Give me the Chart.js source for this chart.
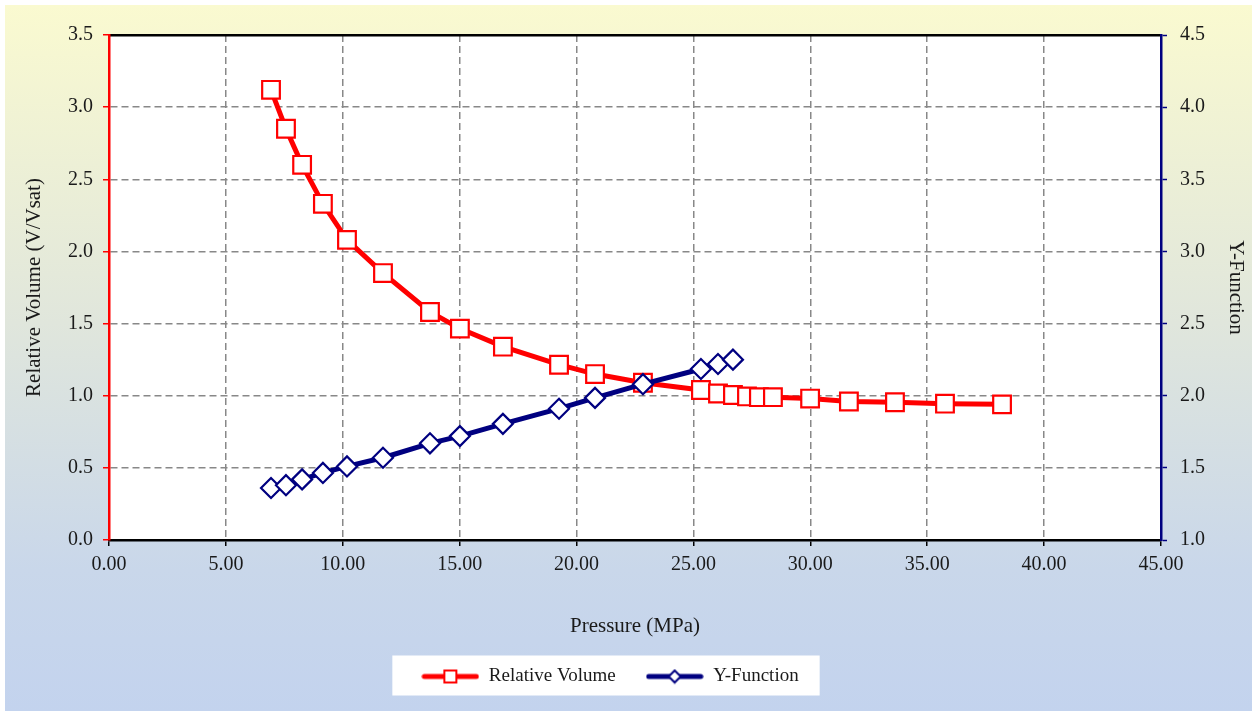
<!DOCTYPE html>
<html><head><meta charset="utf-8">
<script src="https://cdn.jsdelivr.net/npm/chart.js@4.4.0/dist/chart.umd.min.js"></script>
<style>html,body{margin:0;padding:0;background:#fff}#wrap{width:1254px;height:713px;position:relative}</style>
</head><body><div id="wrap"><canvas id="c" width="1254" height="713"></canvas></div>
<script>
// ---- data ----
const pressureRV = [6.93,7.57,8.26,9.15,10.18,11.72,13.73,15.01,16.85,19.25,20.79,22.84,25.32,26.05,26.69,27.29,27.80,28.40,29.99,31.65,33.62,35.76,38.20];
const relativeVolume = [3.12,2.85,2.60,2.33,2.08,1.85,1.58,1.465,1.34,1.215,1.15,1.09,1.04,1.015,1.005,0.995,0.99,0.99,0.98,0.96,0.955,0.945,0.94];
const pressureYF = [6.93,7.57,8.26,9.15,10.18,11.72,13.73,15.01,16.85,19.25,20.79,22.84,25.32,26.05,26.69];
const yFunction = [1.36,1.38,1.42,1.465,1.51,1.57,1.67,1.72,1.805,1.91,1.985,2.08,2.185,2.22,2.25];
const xTickStep = 5, xMin = 0, xMax = 45;
const yLeftMin = 0, yLeftMax = 3.5, yRightMin = 1.0, yRightMax = 4.5, yStep = 0.5;
const seriesNames = ['Relative Volume', 'Y-Function'];
const xTitle = 'Pressure (MPa)', yLeftTitle = 'Relative Volume (V/Vsat)', yRightTitle = 'Y-Function';

const RED = '#ff0000', NAVY = '#000080', GRID = '#888888', TXT = '#1a1a1a';
const FONT = 'Liberation Serif';

function legendIcon(color, style) {
  const cv = document.createElement('canvas');
  cv.width = 58; cv.height = 16;
  const g = cv.getContext('2d');
  g.strokeStyle = color; g.lineWidth = 5; g.lineCap = 'round';
  g.beginPath(); g.moveTo(3, 8); g.lineTo(55, 8); g.stroke();
  g.fillStyle = '#fff'; g.lineWidth = 2; g.lineCap = 'butt';
  if (style === 'rect') {
    g.fillRect(23, 2, 12, 12); g.strokeRect(23, 2, 12, 12);
  } else {
    g.beginPath(); g.moveTo(29, 2); g.lineTo(35, 8); g.lineTo(29, 14); g.lineTo(23, 8); g.closePath();
    g.fill(); g.stroke();
  }
  return cv;
}
const icons = [legendIcon(RED, 'rect'), legendIcon(NAVY, 'diamond')];

const bgPlugin = {
  id: 'bg',
  afterLayout(chart) {
    chart.legend.left -= 17; chart.legend.right -= 17;
  },
  beforeDraw(chart) {
    const {ctx, chartArea: a} = chart;
    ctx.save();
    ctx.fillStyle = '#fff';
    ctx.fillRect(0, 0, chart.width, chart.height);
    const gr = ctx.createLinearGradient(0, 5, 0, 711);
    gr.addColorStop(0, '#fafad0');
    gr.addColorStop(0.45, '#e0e6dc');
    gr.addColorStop(0.8, '#c9d7ea');
    gr.addColorStop(1, '#c3d3ee');
    ctx.fillStyle = gr;
    ctx.fillRect(5, 5, chart.width - 7, chart.height - 7);
    ctx.fillStyle = '#fff';
    ctx.fillRect(a.left, a.top, a.right - a.left, a.bottom - a.top);
    const hb = chart.legend.legendHitBoxes;
    if (hb && hb.length) {
      const l = Math.min(...hb.map(h => h.left)) - 29;
      const r = Math.max(...hb.map(h => h.left + h.width)) + 21;
      const cy = hb[0].top + hb[0].height / 2;
      ctx.fillRect(l, cy - 21, r - l, 40);
    }
    ctx.restore();
  }
};

const tickFont = {family: FONT, size: 20, lineHeight: 1};
const titleFont = {family: FONT, size: 21, lineHeight: 1};

new Chart(document.getElementById('c'), {
  type: 'scatter',
  data: {
    datasets: [
      {
        label: seriesNames[0],
        data: pressureRV.map((p, i) => ({x: p, y: relativeVolume[i]})),
        showLine: true, borderColor: RED, borderWidth: 5,
        pointStyle: 'rect', pointRadius: 12.5, pointBorderWidth: 2.2,
        pointBackgroundColor: '#fff', pointBorderColor: RED,
        yAxisID: 'y', order: 2
      },
      {
        label: seriesNames[1],
        data: pressureYF.map((p, i) => ({x: p, y: yFunction[i]})),
        showLine: true, borderColor: NAVY, borderWidth: 5,
        pointStyle: 'rectRot', pointRadius: 10, pointBorderWidth: 2.2,
        pointBackgroundColor: '#fff', pointBorderColor: NAVY,
        yAxisID: 'y2', order: 1
      }
    ]
  },
  options: {
    responsive: false, animation: false,
    layout: {padding: {top: 35, left: 0, right: 0, bottom: 17}},
    plugins: {
      tooltip: {enabled: false},
      legend: {
        position: 'bottom',
        labels: {
          usePointStyle: true, pointStyleWidth: 58, padding: 30,
          font: {family: FONT, size: 19}, color: TXT,
          generateLabels: (chart) => chart.data.datasets.map((ds, i) => ({
            text: ds.label, pointStyle: icons[i], datasetIndex: i,
            fillStyle: 'transparent', strokeStyle: 'transparent', lineWidth: 0,
            hidden: false, fontColor: TXT
          }))
        }
      }
    },
    scales: {
      x: {
        type: 'linear', position: 'bottom', min: xMin, max: xMax,
        ticks: {stepSize: xTickStep, font: tickFont, color: TXT, padding: 9,
          callback: v => Number(v).toFixed(2)},
        grid: {color: GRID, lineWidth: 1.5, tickLength: 6, tickColor: '#000', tickWidth: 1.5, tickBorderDash: []},
        border: {color: '#000', width: 2.5, dash: [7, 4]},
        title: {display: true, text: xTitle, font: titleFont, color: TXT, padding: {top: 0, bottom: 0}},
        afterFit: s => { s.height = 97; }
      },
      x2: {
        type: 'linear', position: 'top', min: xMin, max: xMax,
        ticks: {display: false},
        grid: {display: false, drawTicks: false},
        border: {color: '#000', width: 2.5},
        afterFit: s => { s.height = 0; }
      },
      y: {
        type: 'linear', position: 'left', min: yLeftMin, max: yLeftMax,
        ticks: {stepSize: yStep, font: tickFont, color: TXT, padding: 10,
          callback: v => Number(v).toFixed(1)},
        grid: {color: GRID, lineWidth: 1.5, tickLength: 6, tickColor: RED, tickWidth: 1.5, tickBorderDash: []},
        border: {color: RED, width: 2.5, dash: [7, 4]},
        title: {display: true, text: yLeftTitle, font: titleFont, color: TXT, padding: {top: 24, bottom: 0}},
        afterFit: s => { s.width = 109; }
      },
      y2: {
        type: 'linear', position: 'right', min: yRightMin, max: yRightMax,
        ticks: {stepSize: yStep, font: tickFont, color: TXT, padding: 13,
          callback: v => Number(v).toFixed(1)},
        grid: {drawOnChartArea: false, tickLength: 6, tickColor: NAVY, tickWidth: 1.5, color: NAVY},
        border: {color: NAVY, width: 2.5},
        title: {display: true, text: yRightTitle, font: titleFont, color: TXT, padding: {top: 8, bottom: 0}},
        afterFit: s => { s.width = 93; }
      }
    }
  },
  plugins: [bgPlugin]
});
</script></body></html>
